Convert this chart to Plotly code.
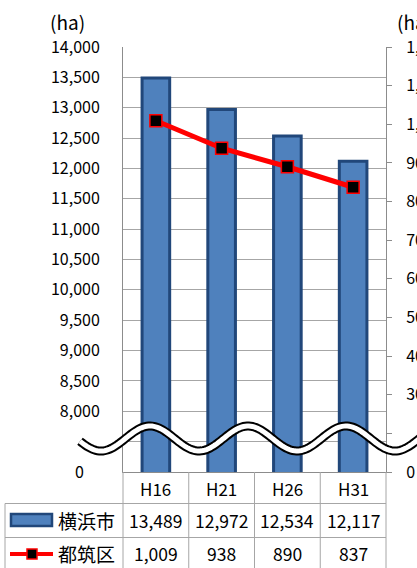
import numpy as np
import plotly.graph_objects as go

categories = ["H16", "H21", "H26", "H31"]
yokohama = [13489, 12972, 12534, 12117]
tsuzuki = [1009, 938, 890, 837]
left_ticks = [7000, 7500, 8000, 8500, 9000, 9500, 10000, 10500, 11000, 11500, 12000, 12500, 13000, 13500, 14000]
left_text = ["0\u2003", "", "8,000", "8,500", "9,000", "9,500", "10,000", "10,500", "11,000", "11,500", "12,000", "12,500", "13,000", "13,500", "14,000"]
right_ticks = [100, 200, 300, 400, 500, 600, 700, 800, 900, 1000, 1100, 1200]
right_text = ["0", "", "300", "400", "500", "600", "700", "800", "900", "1,000", "1,100", "1,200"]
series_names = ["横浜市", "都筑区"]

W, H = 417, 568
L, R, T, B = 123, 386, 47, 472
FONT = "Noto Sans CJK JP"
GRID = "#A6A6A6"
AX = "#8C8C8C"

def px(x):
    return (x - L) / (R - L)

def py(y):
    return (B - y) / (B - T)

fig = go.Figure()
fig.add_trace(go.Bar(x=categories, y=yokohama, name=series_names[0], width=0.42,
                     marker=dict(color="#4F81BD", line=dict(color="#21477A", width=3)),
                     yaxis="y"))
fig.add_trace(go.Scatter(x=categories, y=tsuzuki, name=series_names[1], mode="lines+markers",
                         line=dict(color="#FF0000", width=5),
                         marker=dict(symbol="square", size=12, color="#000000",
                                     line=dict(color="#FF0000", width=1.5)),
                         yaxis="y2"))

shapes = []
annotations = []

def ann(x, y, text, size, xref="paper", xanchor="center"):
    annotations.append(dict(x=x, y=y, xref=xref, yref="paper", text=text, showarrow=False,
                            xanchor=xanchor, yanchor="middle",
                            font=dict(family=FONT, size=size, color="#000")))

# wave break (decoration)
xs = np.linspace(80, 430, 200)
ys = 438.5 - 12.5 * np.cos(2 * np.pi * (xs - 150) / 98)
path = "M " + " L ".join(f"{px(a):.5f},{py(b):.5f}" for a, b in zip(xs, ys))
shapes.append(dict(type="path", path=path, xref="paper", yref="paper",
                   line=dict(color="#000000", width=9), layer="above"))
shapes.append(dict(type="path", path=path, xref="paper", yref="paper",
                   line=dict(color="#FFFFFF", width=5), layer="above"))

# table lines
def hline(y, x0, x1):
    shapes.append(dict(type="line", xref="paper", yref="paper", x0=px(x0), x1=px(x1),
                       y0=py(y), y1=py(y), line=dict(color=GRID, width=1)))

def vline(x, y0, y1):
    shapes.append(dict(type="line", xref="paper", yref="paper", x0=px(x), x1=px(x),
                       y0=py(y0), y1=py(y1), line=dict(color=GRID, width=1)))

for y in [503.5, 537.5]:
    hline(y, 5, R)
for i in range(5):
    vline(L + i * (R - L) / 4, B, 575)
vline(5, 503.5, 575)

# header labels and values
for i, c in enumerate(categories):
    ann(c, py(488), c, 17, xref="x")
    ann(c, py(520), f"{yokohama[i]:,}", 17.5, xref="x")
    ann(c, py(553), f"{tsuzuki[i]:,}", 17.5, xref="x")
# row names
ann(px(86), py(520), series_names[0], 19)
ann(px(86), py(553), series_names[1], 19)
# legend swatches
shapes.append(dict(type="rect", xref="paper", yref="paper", x0=px(11), x1=px(52),
                   y0=py(514), y1=py(526), fillcolor="#4F81BD",
                   line=dict(color="#21477A", width=2.5)))
shapes.append(dict(type="line", xref="paper", yref="paper", x0=px(10), x1=px(53),
                   y0=py(554), y1=py(554), line=dict(color="#FF0000", width=4)))
shapes.append(dict(type="rect", xref="paper", yref="paper", x0=px(27), x1=px(37),
                   y0=py(549), y1=py(559), fillcolor="#000000",
                   line=dict(color="#FF0000", width=1.5)))

# unit labels
ann(px(67), py(22), "(ha)", 19)
ann(px(395), py(22), "(ha)", 19, xanchor="left")

fig.update_layout(
    template="none",
    width=W, height=H, autosize=False,
    margin=dict(l=L, r=W - R, t=T, b=H - B, pad=0),
    paper_bgcolor="#FFFFFF", plot_bgcolor="#FFFFFF",
    showlegend=False,
    font=dict(family=FONT, size=16, color="#000"),
    xaxis=dict(type="category", range=[-0.5, 3.5], showticklabels=False, ticks="",
               showgrid=False, showline=True, linecolor=AX, linewidth=1,
               zeroline=False, automargin=False, fixedrange=True),
    yaxis=dict(range=[7000, 14000], tickvals=left_ticks, ticktext=left_text,
               showgrid=True, gridcolor=GRID, gridwidth=1, showline=True, linecolor=AX,
               linewidth=1, ticks="", zeroline=False, automargin=False,
               ticklabelstandoff=19, tickfont=dict(family=FONT, size=16, color="#000")),
    yaxis2=dict(range=[100, 1200], tickvals=right_ticks, ticktext=right_text,
                overlaying="y", side="right", showgrid=False, showline=True,
                linecolor=AX, linewidth=1, ticks="outside", ticklen=5, tickcolor=AX,
                zeroline=False, automargin=False, ticklabelstandoff=11,
                tickfont=dict(family=FONT, size=16, color="#000")),
    shapes=shapes,
    annotations=annotations,
)

fig.write_html("out.html", config={"displayModeBar": False},
               post_script="document.body.style.margin='0px';")
